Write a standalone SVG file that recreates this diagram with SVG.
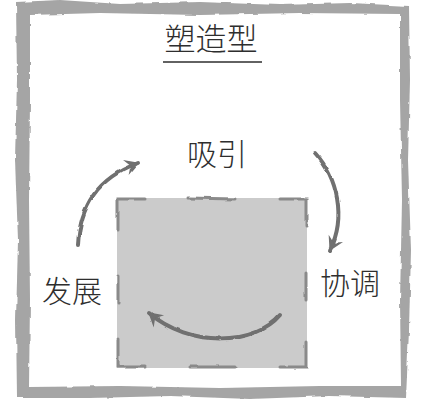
<svg xmlns="http://www.w3.org/2000/svg" width="430" height="410" viewBox="0 0 430 410">
  <style>
    .lbl { font-family: "Noto Sans CJK SC", "Noto Sans", sans-serif; font-weight: 300; fill: #2e2e2e; text-anchor: middle; }
    .arrow { fill: none; stroke: #6f6f6f; stroke-width: 4; stroke-linecap: round; }
    .mark { stroke: #8a8a8a; stroke-width: 3; stroke-linecap: round; fill: none; }
  </style>
  <defs>
    <filter id="rough" x="-10%" y="-10%" width="120%" height="120%">
      <feTurbulence type="fractalNoise" baseFrequency="0.08" numOctaves="2" seed="3" result="n"/>
      <feDisplacementMap in="SourceGraphic" in2="n" scale="3" xChannelSelector="R" yChannelSelector="G"/>
    </filter>
    <marker id="head" viewBox="-14 -9 16 18" markerWidth="16" markerHeight="18" refX="0" refY="0" orient="auto" markerUnits="userSpaceOnUse">
      <path d="M1,0 L-13,-8 L-8,0 L-13,8 Z" fill="#6f6f6f"/>
    </marker>
  </defs>

  <g id="frame" filter="url(#rough)">
    <path fill="#a5a5a5" fill-rule="evenodd"
      d="M16,2 L60,0 L120,4 L200,2 L280,5 L350,3 L409,6 L410,80 L408,160 L411,250 L409,330 L406,398 L330,396 L250,399 L170,396 L90,398 L17,398 L16,320 L18,240 L15,160 L17,80 Z
         M30,15 L30,100 L29,200 L30,300 L29,387 L120,386 L220,388 L320,386 L401,386 L400,300 L402,200 L400,100 L400,14 L300,13 L200,15 L100,13 Z"/>
  </g>

  <g id="title">
    <text class="lbl" x="211" y="50" font-size="31">塑造型</text>
    <line x1="163" y1="62" x2="262" y2="62" stroke="#2e2e2e" stroke-width="1.5"/>
  </g>

  <g id="center-box">
    <rect x="117" y="198" width="190" height="170" fill="#cbcbcb"/>
    <g filter="url(#rough)">
      <path class="mark" d="M118,230 L118,199 L145,199"/>
      <path class="mark" d="M188,198 L235,199"/>
      <path class="mark" d="M280,199 L306,199 L306,226"/>
      <path class="mark" d="M118,276 L118,303"/>
      <path class="mark" d="M306,272 L306,300"/>
      <path class="mark" d="M118,340 L118,367 L145,367"/>
      <path class="mark" d="M190,367 L235,367"/>
      <path class="mark" d="M280,367 L306,367 L306,342"/>
    </g>
  </g>

  <g id="node-xiyin"><text class="lbl" x="217" y="165" font-size="30">吸引</text></g>
  <g id="node-xietiao"><text class="lbl" x="350" y="294" font-size="30">协调</text></g>
  <g id="node-fazhan"><text class="lbl" x="72" y="302" font-size="30">发展</text></g>

  <g id="connectors" filter="url(#rough)">
    <path class="arrow" d="M78,245 C80,205 98,178 138,163" marker-end="url(#head)"/>
    <path class="arrow" d="M315,153 C338,178 346,218 330,250" marker-end="url(#head)"/>
    <path class="arrow" d="M280,315 C255,345 190,348 149,313" marker-end="url(#head)"/>
  </g>
</svg>
